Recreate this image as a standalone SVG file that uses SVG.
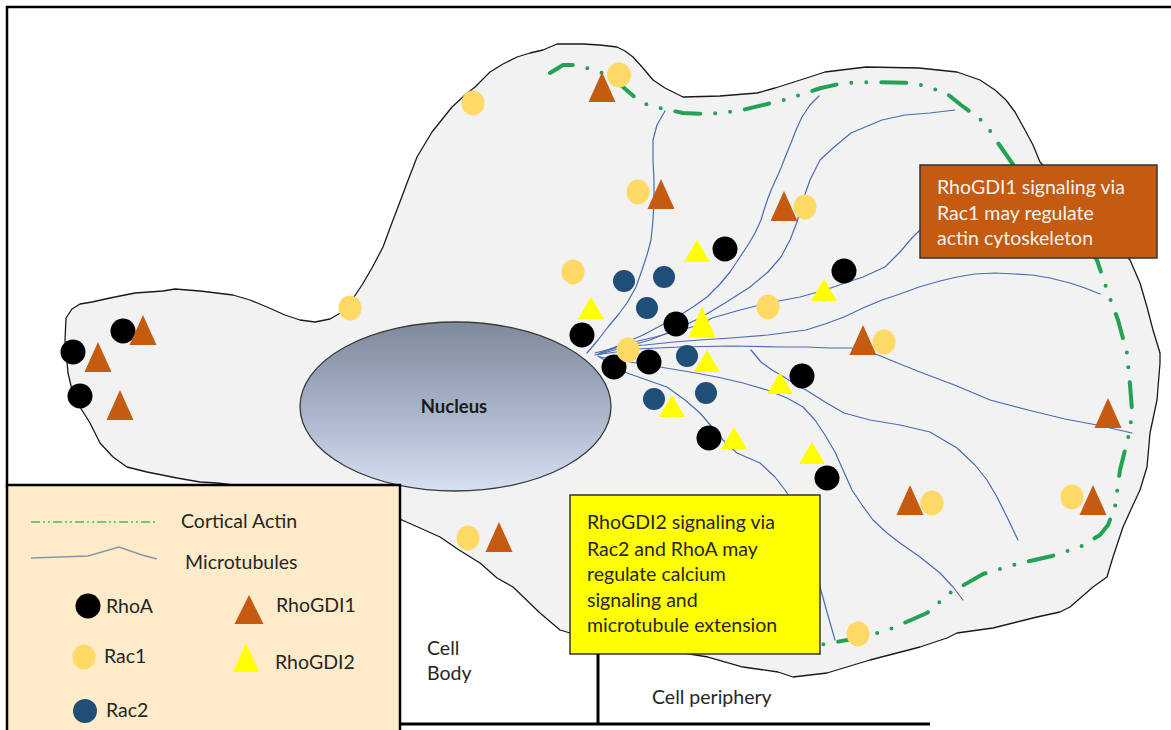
<svg xmlns="http://www.w3.org/2000/svg" xmlns:xlink="http://www.w3.org/1999/xlink" width="1171" height="730" viewBox="0 0 1171 730">
  <defs>
    <linearGradient id="nucleusFill" x1="0" y1="0" x2="0" y2="1">
      <stop offset="0" stop-color="#7e899b"/>
      <stop offset="0.55" stop-color="#aab6ca"/>
      <stop offset="1" stop-color="#d6e0f2"/>
    </linearGradient>
    <!-- molecule glyphs, centred on their own origin -->
    <path id="gdi1" d="M0,-15 L13.5,15 L-13.5,15 Z"/>
    <path id="gdi2" d="M0,-11 L13,11 L-13,11 Z"/>
    <path id="gdi2big" d="M0,-15.5 L13.5,15.5 L-13.5,15.5 Z"/>
  </defs>
  <style>
    .frame { fill: none; stroke: #000; stroke-width: 2.5; }
    .cell { fill: #f2f2f2; stroke: #1a1a1a; stroke-width: 1.3; stroke-linejoin: round; }
    .actin { fill: none; stroke: #22a354; stroke-width: 4; stroke-linecap: round; stroke-linejoin: round; stroke-dasharray: 25 15 0 15 0 15; }
    .mt { fill: none; stroke: #4a6cb3; stroke-width: 1.2; stroke-linejoin: round; stroke-linecap: round; }
    .rhoa { fill: #000; }
    .rac1 { fill: #ffd966; }
    .rac2 { fill: #1f4e79; }
    .g1 { fill: #c55a11; }
    .g2 { fill: #ffff00; }
    .txt { font-family: Lato, "Liberation Sans", sans-serif; fill: #262626; }
    .txt-light { font-family: Lato, "Liberation Sans", sans-serif; fill: #f4f4f4; }
    .box { stroke: #333; stroke-width: 1.5; }
  </style>

  <!-- outer frame -->
  <g id="frame">
    <polyline class="frame" points="1171,7 7,7 7,487"/>
  </g>

  <!-- cell body outline -->
  <g id="cell">
    <path class="cell" d="M66,318 L72,309 L80,304 L92,302 L110,298 L135,293 L163,291 L175,289 L200,291 L233,295 L250,300 L267,307 L285,315 L300,320 L315,322 L330,319 L342,312 L352,300 L362,285 L372,268 L383,247 L390,228 L398,207 L407,183 L417,157 L432,132 L452,107 L465,95 L475,87 L490,72 L503,64 L517,57 L530,53 L543,50 L557,44 L583,44 L600,45 L617,47 L625,51 L633,57 L643,68 L653,80 L665,88 L683,97 L720,96 L757,93 L775,88 L791,83 L825,72 L866,67 L919,68 L957,72 L980,80 L995,90 L1006,100 L1015,112 L1025,130 L1033,145 L1040,162 L1090,215 L1130,260 L1140,283 L1147,307 L1153,330 L1160,353 L1160,363 L1157,400 L1150,433 L1147,467 L1140,490 L1133,505 L1123,527 L1113,557 L1107,577 L1093,587 L1070,607 L1060,612 L1037,617 L993,628 L957,633 L947,638 L920,647 L870,660 L827,673 L793,677 L778,672 L743,667 L708,657 L640,646 L570,633 L560,630 L540,613 L513,587 L497,578 L480,563 L459,550 L440,537 L420,528 L402,520 L300,505 L250,487 L217,483 L200,482 L177,478 L147,472 L127,467 L113,457 L100,443 L90,423 L80,407 L72,390 L68,373 L65,340 Z"/>
  </g>

  <!-- connectors: cortical actin and microtubules -->
  <g id="connectors">
    <polyline id="actin" class="actin" points="550,73 563,65 575,65 590,69 605,74 623,87 638,100 650,106 683,113 708,114 738,111 784,100 821,88 844,83 874,82 915,83 946,93 961,105 985,123 998,143 1012,163 1060,215 1097,260 1108,293 1118,320 1127,353 1130,385 1132,410 1130,430 1125,450 1120,470 1115,507 1108,525 1100,535 1080,547 1052,556 1013,565 983,574 950,593 927,613 888,630 858,638 820,645"/>
    <polyline class="mt" points="587,353 598,340 608,327 618,315 627,303 636,287 642,270 647,255 651,240 653,220 654,200 654,180 653,160 653,140 657,125 665,111"/>
    <polyline class="mt" points="600,353 620,345 643,335 660,326 677,317 693,307 707,297 720,284 730,272 740,257 748,245 755,233 761,220 764,210 768,198 772,188 777,177 781,168 786,155 791,143 796,130 802,117 810,105 819,96"/>
    <polyline class="mt" points="600,354 625,347 650,340 675,330 700,318 725,303 750,287 768,272 781,257 790,240 797,222 803,200 810,180 820,160 833,148 851,133 870,125 882,120 905,115 930,113 955,110"/>
    <polyline class="mt" points="598,354 630,343 655,337 680,330 700,325 712,318 740,310 768,303 800,297 825,290 845,283 863,277 885,267 900,252 912,238 925,225"/>
    <polyline class="mt" points="595,353 618,347 645,345 674,342 700,340 731,338 768,335 806,330 825,324 844,317 863,308 882,300 900,294 919,287 940,281 957,277 975,274 995,273 1015,274 1032,275 1050,278 1070,283 1085,288 1100,294"/>
    <polyline class="mt" points="595,355 637,349 680,347 731,346 780,347 806,347 830,348 851,348 878,355 900,364 920,372 957,386 990,400 1032,411 1065,419 1097,425 1132,433"/>
    <polyline class="mt" points="751,350 756,356 761,362 772,370 784,377 795,384 806,390 825,402 844,413 870,420 900,425 930,432 957,448 975,465 987,480 997,497 1007,517 1018,540"/>
    <polyline class="mt" points="598,356 612,365 627,373 647,380 667,387 685,400 700,413 712,427 723,440 737,453 760,463 775,477 785,490 795,505 805,530 812,560 820,587 827,612 835,640"/>
    <polyline class="mt" points="600,357 630,362 660,367 690,372 717,377 743,383 767,390 787,398 803,407 815,420 825,435 835,452 843,470 852,490 862,505 873,520 887,533 900,543 920,557 940,573 953,587 963,600"/>
  </g>

  <!-- nucleus -->
  <g id="nucleus">
    <ellipse cx="455.5" cy="406.5" rx="155.5" ry="84.5" fill="url(#nucleusFill)" stroke="#3a3a3a" stroke-width="1.3"/>
    <text class="txt" x="454" y="413" font-size="18.5" font-weight="bold" text-anchor="middle" style="fill:#1a1a1a">Nucleus</text>
  </g>

  <!-- RhoA -->
  <g id="rhoa-molecules" class="rhoa">
    <circle id="rhoa-1" cx="73" cy="352" r="12.5"/>
    <circle id="rhoa-2" cx="80" cy="396" r="12.5"/>
    <circle id="rhoa-3" cx="123" cy="331" r="12.5"/>
    <circle id="rhoa-4" cx="725" cy="249" r="12.5"/>
    <circle id="rhoa-5" cx="582" cy="335" r="12.5"/>
    <circle id="rhoa-6" cx="676" cy="324" r="12.5"/>
    <circle id="rhoa-7" cx="614" cy="367" r="12.5"/>
    <circle id="rhoa-8" cx="649" cy="362" r="12.5"/>
    <circle id="rhoa-9" cx="709" cy="438" r="12.5"/>
    <circle id="rhoa-10" cx="802" cy="376" r="12.5"/>
    <circle id="rhoa-11" cx="844" cy="271" r="12.5"/>
    <circle id="rhoa-12" cx="827" cy="478" r="12.5"/>
  </g>

  <!-- Rac2 -->
  <g id="rac2-molecules" class="rac2">
    <circle id="rac2-1" cx="624" cy="281" r="11"/>
    <circle id="rac2-2" cx="664" cy="277" r="11"/>
    <circle id="rac2-3" cx="647" cy="308" r="11"/>
    <circle id="rac2-4" cx="687" cy="356" r="11"/>
    <circle id="rac2-5" cx="706" cy="393" r="11"/>
    <circle id="rac2-6" cx="654" cy="399" r="11"/>
  </g>

  <!-- RhoGDI1 -->
  <g id="rhogdi1-molecules" class="g1">
    <use id="gdi1-1" href="#gdi1" x="98" y="357"/>
    <use id="gdi1-2" href="#gdi1" x="143" y="330"/>
    <use id="gdi1-3" href="#gdi1" x="120" y="405"/>
    <use id="gdi1-4" href="#gdi1" x="602" y="87"/>
    <use id="gdi1-5" href="#gdi1" x="661" y="194"/>
    <use id="gdi1-6" href="#gdi1" x="784" y="206"/>
    <use id="gdi1-7" href="#gdi1" x="863" y="340"/>
    <use id="gdi1-8" href="#gdi1" x="1108" y="413"/>
    <use id="gdi1-9" href="#gdi1" x="910" y="500"/>
    <use id="gdi1-10" href="#gdi1" x="1093" y="500"/>
    <use id="gdi1-11" href="#gdi1" x="499" y="537"/>
  </g>

  <!-- Rac1 -->
  <g id="rac1-molecules" class="rac1">
    <ellipse id="rac1-1" cx="473" cy="103" rx="11.5" ry="12.5"/>
    <ellipse id="rac1-2" cx="619" cy="75" rx="12" ry="12.5"/>
    <ellipse id="rac1-3" cx="638" cy="192" rx="11.5" ry="12.5"/>
    <ellipse id="rac1-4" cx="805" cy="207" rx="11.5" ry="12.5"/>
    <ellipse id="rac1-5" cx="573" cy="272" rx="11.5" ry="12.5"/>
    <ellipse id="rac1-6" cx="628" cy="350" rx="11.5" ry="12.5"/>
    <ellipse id="rac1-7" cx="768" cy="307" rx="11.5" ry="12.5"/>
    <ellipse id="rac1-8" cx="884" cy="342" rx="11.5" ry="12.5"/>
    <ellipse id="rac1-9" cx="932" cy="503" rx="11.5" ry="12.5"/>
    <ellipse id="rac1-10" cx="1072" cy="497" rx="11.5" ry="12.5"/>
    <ellipse id="rac1-11" cx="858" cy="634" rx="11.5" ry="12.5"/>
    <ellipse id="rac1-12" cx="350" cy="308" rx="11.5" ry="12.5"/>
    <ellipse id="rac1-13" cx="468" cy="538" rx="11.5" ry="12.5"/>
  </g>

  <!-- RhoGDI2 -->
  <g id="rhogdi2-molecules" class="g2">
    <use id="gdi2-1" href="#gdi2" x="697" y="251"/>
    <use id="gdi2-2" href="#gdi2" x="591" y="308"/>
    <use id="gdi2-3" href="#gdi2big" x="702" y="322"/>
    <use id="gdi2-4" href="#gdi2" x="707" y="361"/>
    <use id="gdi2-5" href="#gdi2" x="672" y="406"/>
    <use id="gdi2-6" href="#gdi2" x="734" y="438"/>
    <use id="gdi2-7" href="#gdi2" x="780" y="383"/>
    <use id="gdi2-8" href="#gdi2" x="824" y="290"/>
    <use id="gdi2-9" href="#gdi2" x="812" y="453"/>
  </g>

  <!-- RhoGDI1 note -->
  <g id="note-rhogdi1">
    <rect class="box" x="920" y="165" width="237" height="93" fill="#c55a11"/>
    <text class="txt-light" font-size="19.5">
      <tspan x="937" y="194">RhoGDI1 signaling via</tspan>
      <tspan x="937" y="220">Rac1 may regulate</tspan>
      <tspan x="937" y="245">actin cytoskeleton</tspan>
    </text>
  </g>

  <!-- RhoGDI2 note -->
  <g id="note-rhogdi2">
    <rect class="box" x="570" y="495" width="250" height="159" fill="#ffff00"/>
    <text class="txt" font-size="19.5">
      <tspan x="587" y="529">RhoGDI2 signaling via</tspan>
      <tspan x="587" y="556">Rac2 and RhoA may</tspan>
      <tspan x="587" y="581">regulate calcium</tspan>
      <tspan x="587" y="607">signaling and</tspan>
      <tspan x="587" y="632">microtubule extension</tspan>
    </text>
  </g>

  <!-- region axis -->
  <g id="regions">
    <line x1="400" y1="724" x2="930" y2="724" stroke="#000" stroke-width="3"/>
    <line x1="598" y1="654" x2="598" y2="724" stroke="#000" stroke-width="3"/>
    <text class="txt" font-size="19.5">
      <tspan x="427" y="655">Cell</tspan>
      <tspan x="427" y="680">Body</tspan>
    </text>
    <text class="txt" x="652" y="704" font-size="19.5">Cell periphery</text>
  </g>

  <!-- legend -->
  <g id="legend">
    <rect x="7" y="485" width="393" height="250" fill="#fdebc9" stroke="#000" stroke-width="2.5"/>
    <line x1="31" y1="522" x2="155" y2="522" stroke="#45c24f" stroke-width="1.5" stroke-dasharray="9 3 2 3 2 3"/>
    <polyline points="31,558 88,556 119,547 142,555 157,559" fill="none" stroke="#8497b0" stroke-width="1.6"/>
    <circle class="rhoa" cx="88" cy="606" r="12.5"/>
    <ellipse class="rac1" cx="84" cy="657" rx="11.5" ry="12.5"/>
    <circle class="rac2" cx="85" cy="711" r="12"/>
    <path class="g1" d="M249,595 L263.5,624 L234.5,624 Z"/>
    <path class="g2" d="M246,643 L259,672 L233,672 Z"/>
    <g class="txt" font-size="19.5">
      <text x="181" y="528">Cortical Actin</text>
      <text x="185" y="569">Microtubules</text>
      <text x="106" y="613">RhoA</text>
      <text x="104" y="663">Rac1</text>
      <text x="106" y="717">Rac2</text>
      <text x="276" y="612">RhoGDI1</text>
      <text x="275" y="669">RhoGDI2</text>
    </g>
  </g>
</svg>
